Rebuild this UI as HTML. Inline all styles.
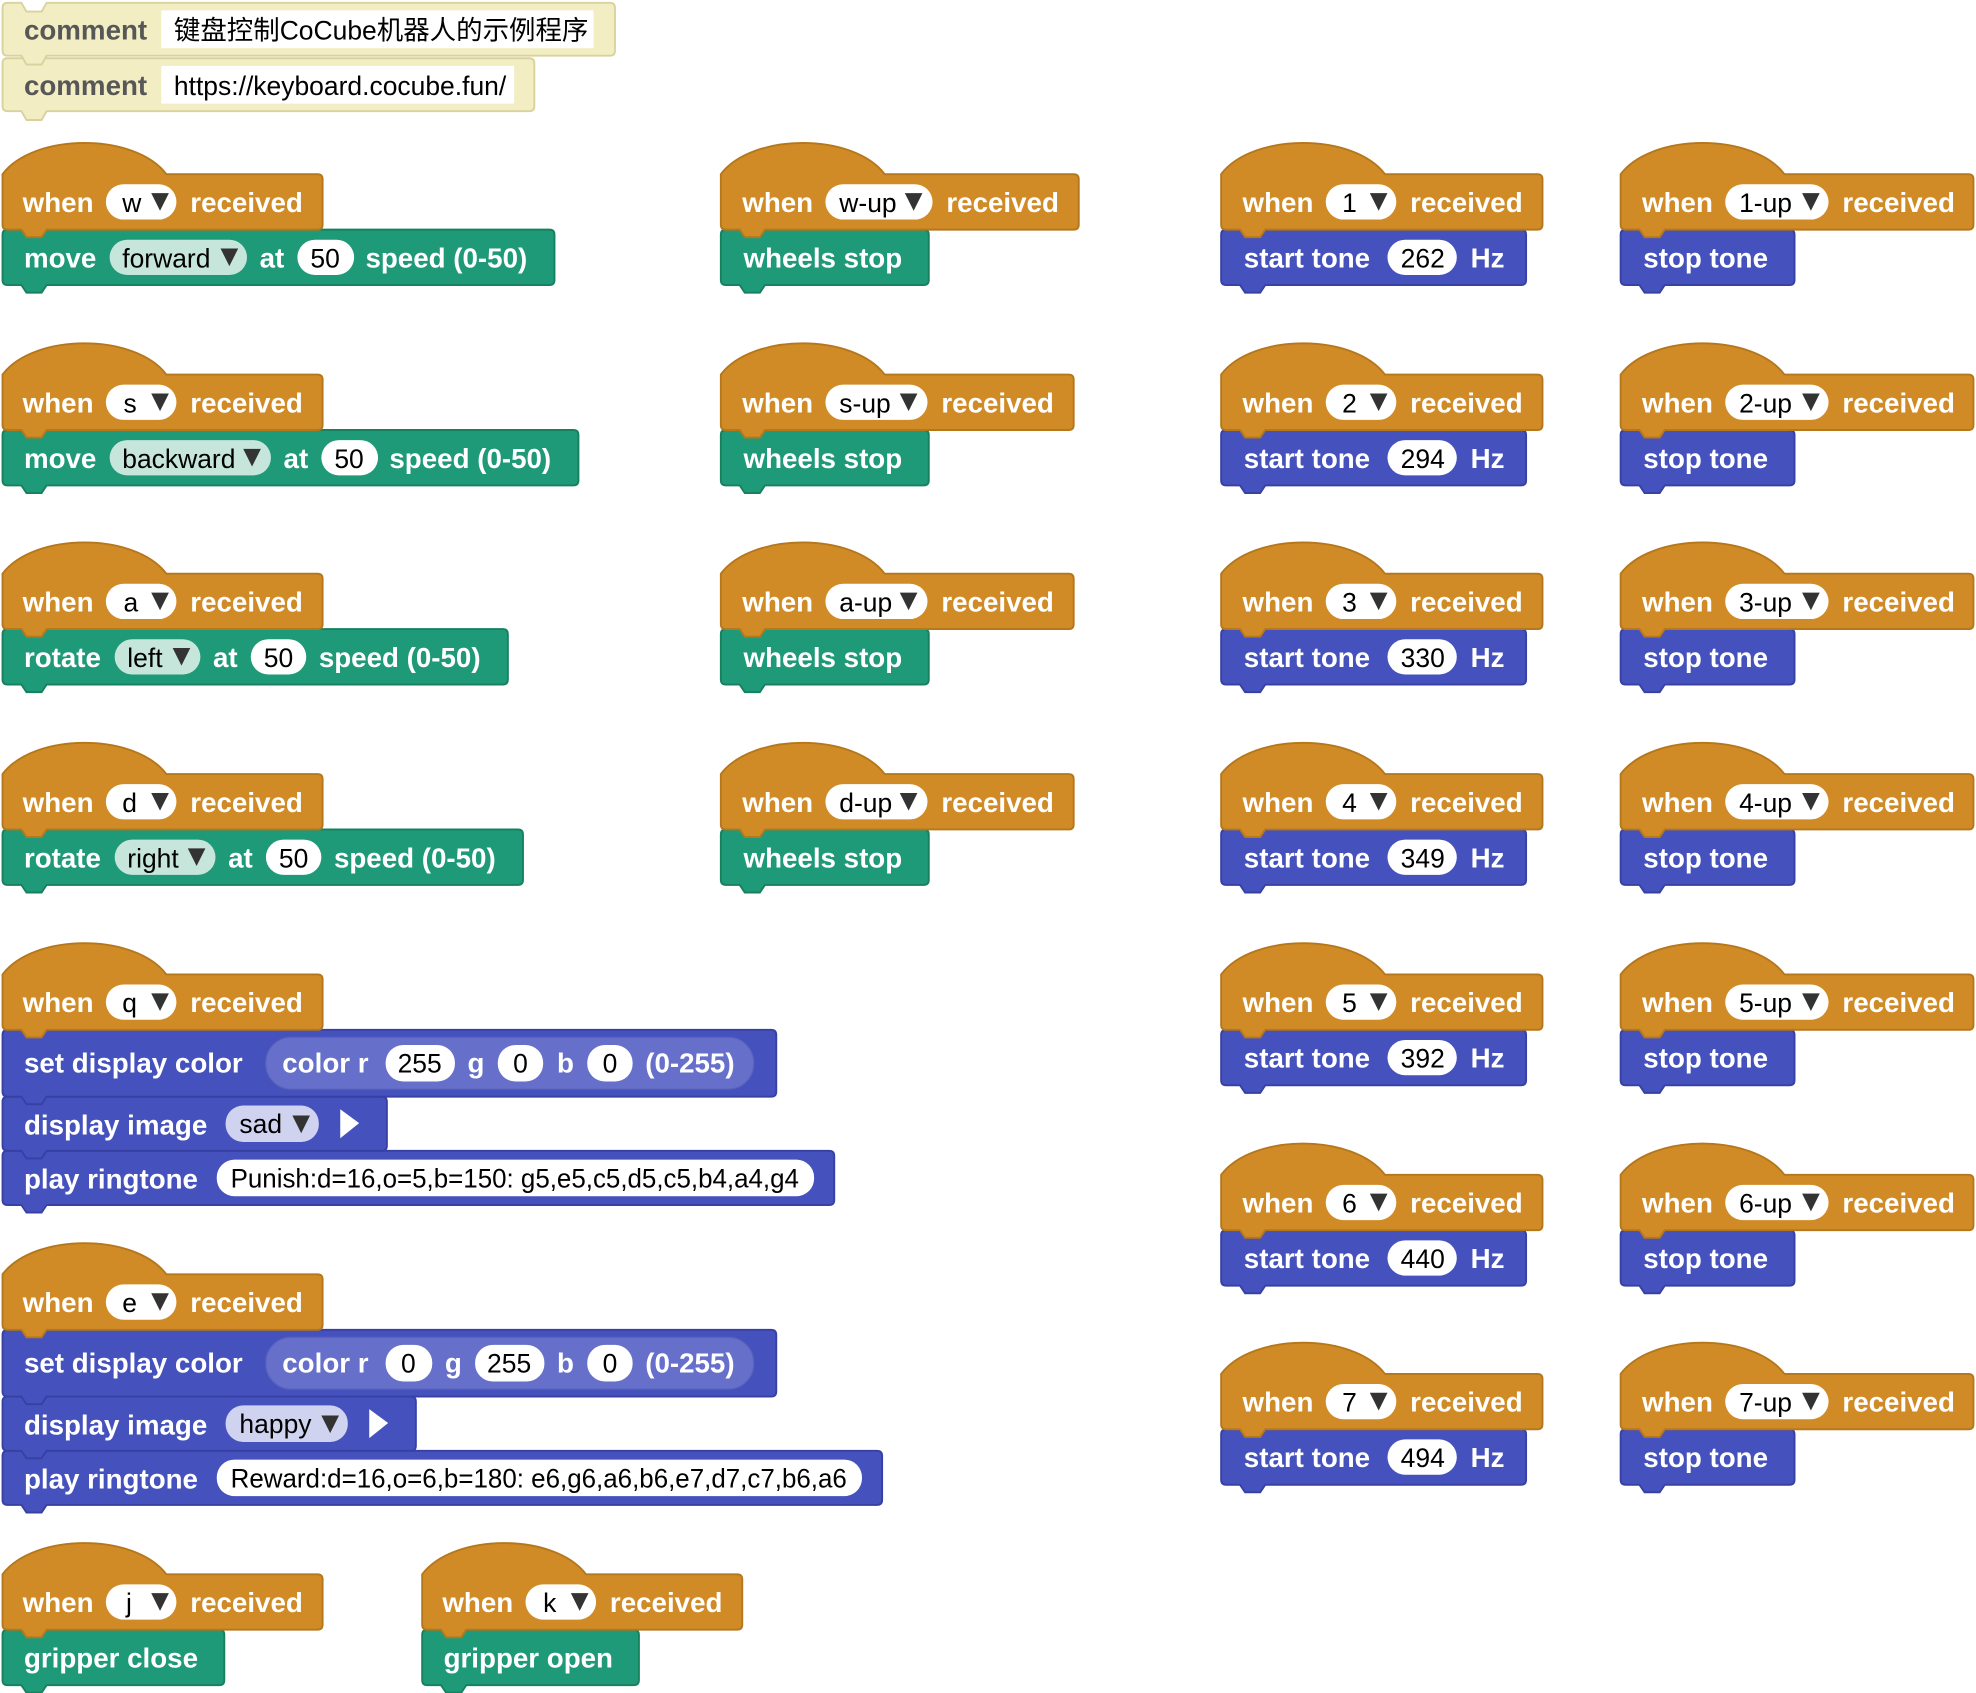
<!DOCTYPE html>
<html><head><meta charset="utf-8"><style>
html,body{margin:0;padding:0;background:#fff;width:1976px;height:1693px;overflow:hidden}
svg{display:block}
.t{font:bold 22px "Liberation Sans",sans-serif;fill:#fff}
.c{font:bold 22px "Liberation Sans",sans-serif;fill:#575757}
.d{font:21px "Liberation Sans","Noto Sans CJK SC",sans-serif;fill:#000}
.m{text-anchor:middle}
.o{fill:#D18B26;stroke:#B5771C;stroke-width:1.5}
.g{fill:#1F9A78;stroke:#16805F;stroke-width:1.5}
.b{fill:#4551BD;stroke:#3641A3;stroke-width:1.5}
.y{fill:#F2EDC2;stroke:#D9D29E;stroke-width:1.5}
.w{fill:#fff}
.l{fill:#C6E6DC}
.p{fill:#D0D3F0}
.k{fill:#333}
</style></head><body>
<svg width="1976" height="1693" viewBox="0 0 1568 1343" xmlns="http://www.w3.org/2000/svg">
<!-- comments -->
<g transform="translate(2,46)"><path class="y" d="M4,0 L15,0 L19,-7 L31,-7 L35,0 L418,0 Q422,0 422,4 L422,38 Q422,42 418,42 L35,42 L31,49 L19,49 L15,42 L4,42 Q0,42 0,38 L0,4 Q0,0 4,0 Z"/><text class="c" x="17" y="29">comment</text><rect class="w" x="126" y="6" width="280" height="30"/><text class="d" x="136" y="29">https://keyboard.cocube.fun/</text></g>
<g transform="translate(2,2)"><path class="y" d="M4,0 L15,0 L19,7 L31,7 L35,0 L482,0 Q486,0 486,4 L486,38 Q486,42 482,42 L35,42 L31,49 L19,49 L15,42 L4,42 Q0,42 0,38 L0,4 Q0,0 4,0 Z"/><text class="c" x="17" y="29">comment</text><rect class="w" x="126" y="6" width="343" height="30"/><text class="d" x="136" y="29">键盘控制CoCube机器人的示例程序</text></g>

<!-- column 1 stacks -->
<g transform="translate(2,182)"><path class="g" d="M0,4 Q0,0 4,0 L434,0 Q438,0 438,4 L438,40 Q438,44 434,44 L35,44 L31,50 L19,50 L15,44 L4,44 Q0,44 0,40 Z"/><text class="t" x="17" y="30">move</text><rect class="l" x="85" y="8" width="109" height="28" rx="14"/><text class="d" x="95" y="30">forward</text><polygon class="k" points="173,15 187,15 180,29"/><text class="t" x="204" y="30">at</text><rect class="w" x="234" y="8" width="45" height="28" rx="14"/><text class="d m" x="256" y="30">50</text><text class="t" x="288" y="30">speed (0-50)</text></g>
<g transform="translate(2,138)"><path class="o" d="M0,0 C25,-33 105,-33 130,0 L250,0 Q254,0 254,4 L254,40 Q254,44 250,44 L35,44 L31,50 L19,50 L15,44 L4,44 Q0,44 0,40 Z"/><text class="t" x="16" y="30">when</text><rect class="w" x="82" y="8" width="56" height="28" rx="14"/><text class="d" x="95" y="30">w</text><polygon class="k" points="118,15 132,15 125,29"/><text class="t" x="149" y="30">received</text></g>

<g transform="translate(2,341)"><path class="g" d="M0,4 Q0,0 4,0 L453,0 Q457,0 457,4 L457,40 Q457,44 453,44 L35,44 L31,50 L19,50 L15,44 L4,44 Q0,44 0,40 Z"/><text class="t" x="17" y="30">move</text><rect class="l" x="85" y="8" width="128" height="28" rx="14"/><text class="d" x="95" y="30">backward</text><polygon class="k" points="191,15 205,15 198,29"/><text class="t" x="223" y="30">at</text><rect class="w" x="253" y="8" width="45" height="28" rx="14"/><text class="d m" x="275" y="30">50</text><text class="t" x="307" y="30">speed (0-50)</text></g>
<g transform="translate(2,297)"><path class="o" d="M0,0 C25,-33 105,-33 130,0 L250,0 Q254,0 254,4 L254,40 Q254,44 250,44 L35,44 L31,50 L19,50 L15,44 L4,44 Q0,44 0,40 Z"/><text class="t" x="16" y="30">when</text><rect class="w" x="82" y="8" width="56" height="28" rx="14"/><text class="d" x="96" y="30">s</text><polygon class="k" points="118,15 132,15 125,29"/><text class="t" x="149" y="30">received</text></g>

<g transform="translate(2,499)"><path class="g" d="M0,4 Q0,0 4,0 L397,0 Q401,0 401,4 L401,40 Q401,44 397,44 L35,44 L31,50 L19,50 L15,44 L4,44 Q0,44 0,40 Z"/><text class="t" x="17" y="30">rotate</text><rect class="l" x="89" y="8" width="68" height="28" rx="14"/><text class="d" x="99" y="30">left</text><polygon class="k" points="135,15 149,15 142,29"/><text class="t" x="167" y="30">at</text><rect class="w" x="197" y="8" width="44" height="28" rx="14"/><text class="d m" x="219" y="30">50</text><text class="t" x="251" y="30">speed (0-50)</text></g>
<g transform="translate(2,455)"><path class="o" d="M0,0 C25,-33 105,-33 130,0 L250,0 Q254,0 254,4 L254,40 Q254,44 250,44 L35,44 L31,50 L19,50 L15,44 L4,44 Q0,44 0,40 Z"/><text class="t" x="16" y="30">when</text><rect class="w" x="82" y="8" width="56" height="28" rx="14"/><text class="d" x="96" y="30">a</text><polygon class="k" points="118,15 132,15 125,29"/><text class="t" x="149" y="30">received</text></g>

<g transform="translate(2,658)"><path class="g" d="M0,4 Q0,0 4,0 L409,0 Q413,0 413,4 L413,40 Q413,44 409,44 L35,44 L31,50 L19,50 L15,44 L4,44 Q0,44 0,40 Z"/><text class="t" x="17" y="30">rotate</text><rect class="l" x="89" y="8" width="80" height="28" rx="14"/><text class="d" x="99" y="30">right</text><polygon class="k" points="147,15 161,15 154,29"/><text class="t" x="179" y="30">at</text><rect class="w" x="209" y="8" width="44" height="28" rx="14"/><text class="d m" x="231" y="30">50</text><text class="t" x="263" y="30">speed (0-50)</text></g>
<g transform="translate(2,614)"><path class="o" d="M0,0 C25,-33 105,-33 130,0 L250,0 Q254,0 254,4 L254,40 Q254,44 250,44 L35,44 L31,50 L19,50 L15,44 L4,44 Q0,44 0,40 Z"/><text class="t" x="16" y="30">when</text><rect class="w" x="82" y="8" width="56" height="28" rx="14"/><text class="d" x="95" y="30">d</text><polygon class="k" points="118,15 132,15 125,29"/><text class="t" x="149" y="30">received</text></g>

<!-- q -->
<g transform="translate(2,913)"><path class="b" d="M0,4 Q0,0 4,0 L656,0 Q660,0 660,4 L660,39 Q660,43 656,43 L35,43 L31,49 L19,49 L15,43 L4,43 Q0,43 0,39 Z"/><text class="t" x="17" y="30">play ringtone</text><rect class="w" x="170" y="7" width="474" height="29" rx="14"/><text class="d" x="181" y="29" textLength="451" lengthAdjust="spacingAndGlyphs">Punish:d=16,o=5,b=150: g5,e5,c5,d5,c5,b4,a4,g4</text></g>
<g transform="translate(2,870)"><path class="b" d="M0,4 Q0,0 4,0 L301,0 Q305,0 305,4 L305,39 Q305,43 301,43 L35,43 L31,49 L19,49 L15,43 L4,43 Q0,43 0,39 Z"/><text class="t" x="17" y="30">display image</text><rect class="p" x="177" y="7" width="74" height="29" rx="14"/><text class="d" x="188" y="29">sad</text><polygon class="k" points="230,15 244,15 237,29"/><polygon class="w" points="268,10 283,21 268,33"/></g>
<g transform="translate(2,817)"><path class="b" d="M0,4 Q0,0 4,0 L610,0 Q614,0 614,4 L614,49 Q614,53 610,53 L35,53 L31,59 L19,59 L15,53 L4,53 Q0,53 0,49 Z"/><text class="t" x="17" y="34">set display color</text><rect x="209" y="6" width="387" height="41" rx="20" fill="#6670CA" stroke="#5A64BD"/><text class="t" x="222" y="34">color r</text><rect class="w" x="304" y="12" width="55" height="29" rx="14"/><text class="d m" x="331" y="34">255</text><text class="t" x="369" y="34">g</text><rect class="w" x="393" y="12" width="36" height="29" rx="14"/><text class="d m" x="411" y="34">0</text><text class="t" x="440" y="34">b</text><rect class="w" x="464" y="12" width="36" height="29" rx="14"/><text class="d m" x="482" y="34">0</text><text class="t" x="510" y="34">(0-255)</text></g>
<g transform="translate(2,773)"><path class="o" d="M0,0 C25,-33 105,-33 130,0 L250,0 Q254,0 254,4 L254,40 Q254,44 250,44 L35,44 L31,50 L19,50 L15,44 L4,44 Q0,44 0,40 Z"/><text class="t" x="16" y="30">when</text><rect class="w" x="82" y="8" width="56" height="28" rx="14"/><text class="d" x="95" y="30">q</text><polygon class="k" points="118,15 132,15 125,29"/><text class="t" x="149" y="30">received</text></g>

<!-- e -->
<g transform="translate(2,1151)"><path class="b" d="M0,4 Q0,0 4,0 L694,0 Q698,0 698,4 L698,39 Q698,43 694,43 L35,43 L31,49 L19,49 L15,43 L4,43 Q0,43 0,39 Z"/><text class="t" x="17" y="30">play ringtone</text><rect class="w" x="170" y="7" width="512" height="29" rx="14"/><text class="d" x="181" y="29" textLength="489" lengthAdjust="spacingAndGlyphs">Reward:d=16,o=6,b=180: e6,g6,a6,b6,e7,d7,c7,b6,a6</text></g>
<g transform="translate(2,1108)"><path class="b" d="M0,4 Q0,0 4,0 L324,0 Q328,0 328,4 L328,39 Q328,43 324,43 L35,43 L31,49 L19,49 L15,43 L4,43 Q0,43 0,39 Z"/><text class="t" x="17" y="30">display image</text><rect class="p" x="177" y="7" width="97" height="29" rx="14"/><text class="d" x="188" y="29">happy</text><polygon class="k" points="253,15 267,15 260,29"/><polygon class="w" points="291,10 306,21 291,33"/></g>
<g transform="translate(2,1055)"><path class="b" d="M0,4 Q0,0 4,0 L610,0 Q614,0 614,4 L614,49 Q614,53 610,53 L35,53 L31,59 L19,59 L15,53 L4,53 Q0,53 0,49 Z"/><text class="t" x="17" y="34">set display color</text><rect x="209" y="6" width="387" height="41" rx="20" fill="#6670CA" stroke="#5A64BD"/><text class="t" x="222" y="34">color r</text><rect class="w" x="304" y="12" width="37" height="29" rx="14"/><text class="d m" x="322" y="34">0</text><text class="t" x="351" y="34">g</text><rect class="w" x="375" y="12" width="55" height="29" rx="14"/><text class="d m" x="402" y="34">255</text><text class="t" x="440" y="34">b</text><rect class="w" x="464" y="12" width="36" height="29" rx="14"/><text class="d m" x="482" y="34">0</text><text class="t" x="510" y="34">(0-255)</text></g>
<g transform="translate(2,1011)"><path class="o" d="M0,0 C25,-33 105,-33 130,0 L250,0 Q254,0 254,4 L254,40 Q254,44 250,44 L35,44 L31,50 L19,50 L15,44 L4,44 Q0,44 0,40 Z"/><text class="t" x="16" y="30">when</text><rect class="w" x="82" y="8" width="56" height="28" rx="14"/><text class="d" x="95" y="30">e</text><polygon class="k" points="118,15 132,15 125,29"/><text class="t" x="149" y="30">received</text></g>

<!-- j / k -->
<g transform="translate(2,1293)"><path class="g" d="M0,4 Q0,0 4,0 L172,0 Q176,0 176,4 L176,40 Q176,44 172,44 L35,44 L31,50 L19,50 L15,44 L4,44 Q0,44 0,40 Z"/><text class="t" x="17" y="30">gripper close</text></g>
<g transform="translate(2,1249)"><path class="o" d="M0,0 C25,-33 105,-33 130,0 L250,0 Q254,0 254,4 L254,40 Q254,44 250,44 L35,44 L31,50 L19,50 L15,44 L4,44 Q0,44 0,40 Z"/><text class="t" x="16" y="30">when</text><rect class="w" x="82" y="8" width="56" height="28" rx="14"/><text class="d" x="98" y="30">j</text><polygon class="k" points="118,15 132,15 125,29"/><text class="t" x="149" y="30">received</text></g>
<g transform="translate(335,1293)"><path class="g" d="M0,4 Q0,0 4,0 L168,0 Q172,0 172,4 L172,40 Q172,44 168,44 L35,44 L31,50 L19,50 L15,44 L4,44 Q0,44 0,40 Z"/><text class="t" x="17" y="30">gripper open</text></g>
<g transform="translate(335,1249)"><path class="o" d="M0,0 C25,-33 105,-33 130,0 L250,0 Q254,0 254,4 L254,40 Q254,44 250,44 L35,44 L31,50 L19,50 L15,44 L4,44 Q0,44 0,40 Z"/><text class="t" x="16" y="30">when</text><rect class="w" x="82" y="8" width="56" height="28" rx="14"/><text class="d" x="96" y="30">k</text><polygon class="k" points="118,15 132,15 125,29"/><text class="t" x="149" y="30">received</text></g>

<!-- column 2 -->
<g transform="translate(572,182)"><path class="g" d="M0,4 Q0,0 4,0 L161,0 Q165,0 165,4 L165,40 Q165,44 161,44 L35,44 L31,50 L19,50 L15,44 L4,44 Q0,44 0,40 Z"/><text class="t" x="18" y="30">wheels stop</text></g>
<g transform="translate(572,138)"><path class="o" d="M0,0 C25,-33 105,-33 130,0 L280,0 Q284,0 284,4 L284,40 Q284,44 280,44 L35,44 L31,50 L19,50 L15,44 L4,44 Q0,44 0,40 Z"/><text class="t" x="17" y="30">when</text><rect class="w" x="83" y="8" width="85" height="28" rx="14"/><text class="d" x="94" y="30">w-up</text><polygon class="k" points="146,15 160,15 153,29"/><text class="t" x="179" y="30">received</text></g>
<g transform="translate(572,341)"><path class="g" d="M0,4 Q0,0 4,0 L161,0 Q165,0 165,4 L165,40 Q165,44 161,44 L35,44 L31,50 L19,50 L15,44 L4,44 Q0,44 0,40 Z"/><text class="t" x="18" y="30">wheels stop</text></g>
<g transform="translate(572,297)"><path class="o" d="M0,0 C25,-33 105,-33 130,0 L276,0 Q280,0 280,4 L280,40 Q280,44 276,44 L35,44 L31,50 L19,50 L15,44 L4,44 Q0,44 0,40 Z"/><text class="t" x="17" y="30">when</text><rect class="w" x="83" y="8" width="81" height="28" rx="14"/><text class="d" x="94" y="30">s-up</text><polygon class="k" points="142,15 156,15 149,29"/><text class="t" x="175" y="30">received</text></g>
<g transform="translate(572,499)"><path class="g" d="M0,4 Q0,0 4,0 L161,0 Q165,0 165,4 L165,40 Q165,44 161,44 L35,44 L31,50 L19,50 L15,44 L4,44 Q0,44 0,40 Z"/><text class="t" x="18" y="30">wheels stop</text></g>
<g transform="translate(572,455)"><path class="o" d="M0,0 C25,-33 105,-33 130,0 L276,0 Q280,0 280,4 L280,40 Q280,44 276,44 L35,44 L31,50 L19,50 L15,44 L4,44 Q0,44 0,40 Z"/><text class="t" x="17" y="30">when</text><rect class="w" x="83" y="8" width="81" height="28" rx="14"/><text class="d" x="94" y="30">a-up</text><polygon class="k" points="142,15 156,15 149,29"/><text class="t" x="175" y="30">received</text></g>
<g transform="translate(572,658)"><path class="g" d="M0,4 Q0,0 4,0 L161,0 Q165,0 165,4 L165,40 Q165,44 161,44 L35,44 L31,50 L19,50 L15,44 L4,44 Q0,44 0,40 Z"/><text class="t" x="18" y="30">wheels stop</text></g>
<g transform="translate(572,614)"><path class="o" d="M0,0 C25,-33 105,-33 130,0 L276,0 Q280,0 280,4 L280,40 Q280,44 276,44 L35,44 L31,50 L19,50 L15,44 L4,44 Q0,44 0,40 Z"/><text class="t" x="17" y="30">when</text><rect class="w" x="83" y="8" width="81" height="28" rx="14"/><text class="d" x="94" y="30">d-up</text><polygon class="k" points="142,15 156,15 149,29"/><text class="t" x="175" y="30">received</text></g>

<!-- column 3 -->
<g transform="translate(969,182)"><path class="b" d="M0,4 Q0,0 4,0 L238,0 Q242,0 242,4 L242,40 Q242,44 238,44 L35,44 L31,50 L19,50 L15,44 L4,44 Q0,44 0,40 Z"/><text class="t" x="18" y="30">start tone</text><rect class="w" x="132" y="8" width="55" height="28" rx="14"/><text class="d m" x="160" y="30">262</text><text class="t" x="198" y="30">Hz</text></g>
<g transform="translate(969,138)"><path class="o" d="M0,0 C25,-33 105,-33 130,0 L251,0 Q255,0 255,4 L255,40 Q255,44 251,44 L35,44 L31,50 L19,50 L15,44 L4,44 Q0,44 0,40 Z"/><text class="t" x="17" y="30">when</text><rect class="w" x="83" y="8" width="56" height="28" rx="14"/><text class="d" x="96" y="30">1</text><polygon class="k" points="118,15 132,15 125,29"/><text class="t" x="150" y="30">received</text></g>
<g transform="translate(969,341)"><path class="b" d="M0,4 Q0,0 4,0 L238,0 Q242,0 242,4 L242,40 Q242,44 238,44 L35,44 L31,50 L19,50 L15,44 L4,44 Q0,44 0,40 Z"/><text class="t" x="18" y="30">start tone</text><rect class="w" x="132" y="8" width="55" height="28" rx="14"/><text class="d m" x="160" y="30">294</text><text class="t" x="198" y="30">Hz</text></g>
<g transform="translate(969,297)"><path class="o" d="M0,0 C25,-33 105,-33 130,0 L251,0 Q255,0 255,4 L255,40 Q255,44 251,44 L35,44 L31,50 L19,50 L15,44 L4,44 Q0,44 0,40 Z"/><text class="t" x="17" y="30">when</text><rect class="w" x="83" y="8" width="56" height="28" rx="14"/><text class="d" x="96" y="30">2</text><polygon class="k" points="118,15 132,15 125,29"/><text class="t" x="150" y="30">received</text></g>
<g transform="translate(969,499)"><path class="b" d="M0,4 Q0,0 4,0 L238,0 Q242,0 242,4 L242,40 Q242,44 238,44 L35,44 L31,50 L19,50 L15,44 L4,44 Q0,44 0,40 Z"/><text class="t" x="18" y="30">start tone</text><rect class="w" x="132" y="8" width="55" height="28" rx="14"/><text class="d m" x="160" y="30">330</text><text class="t" x="198" y="30">Hz</text></g>
<g transform="translate(969,455)"><path class="o" d="M0,0 C25,-33 105,-33 130,0 L251,0 Q255,0 255,4 L255,40 Q255,44 251,44 L35,44 L31,50 L19,50 L15,44 L4,44 Q0,44 0,40 Z"/><text class="t" x="17" y="30">when</text><rect class="w" x="83" y="8" width="56" height="28" rx="14"/><text class="d" x="96" y="30">3</text><polygon class="k" points="118,15 132,15 125,29"/><text class="t" x="150" y="30">received</text></g>
<g transform="translate(969,658)"><path class="b" d="M0,4 Q0,0 4,0 L238,0 Q242,0 242,4 L242,40 Q242,44 238,44 L35,44 L31,50 L19,50 L15,44 L4,44 Q0,44 0,40 Z"/><text class="t" x="18" y="30">start tone</text><rect class="w" x="132" y="8" width="55" height="28" rx="14"/><text class="d m" x="160" y="30">349</text><text class="t" x="198" y="30">Hz</text></g>
<g transform="translate(969,614)"><path class="o" d="M0,0 C25,-33 105,-33 130,0 L251,0 Q255,0 255,4 L255,40 Q255,44 251,44 L35,44 L31,50 L19,50 L15,44 L4,44 Q0,44 0,40 Z"/><text class="t" x="17" y="30">when</text><rect class="w" x="83" y="8" width="56" height="28" rx="14"/><text class="d" x="96" y="30">4</text><polygon class="k" points="118,15 132,15 125,29"/><text class="t" x="150" y="30">received</text></g>
<g transform="translate(969,817)"><path class="b" d="M0,4 Q0,0 4,0 L238,0 Q242,0 242,4 L242,40 Q242,44 238,44 L35,44 L31,50 L19,50 L15,44 L4,44 Q0,44 0,40 Z"/><text class="t" x="18" y="30">start tone</text><rect class="w" x="132" y="8" width="55" height="28" rx="14"/><text class="d m" x="160" y="30">392</text><text class="t" x="198" y="30">Hz</text></g>
<g transform="translate(969,773)"><path class="o" d="M0,0 C25,-33 105,-33 130,0 L251,0 Q255,0 255,4 L255,40 Q255,44 251,44 L35,44 L31,50 L19,50 L15,44 L4,44 Q0,44 0,40 Z"/><text class="t" x="17" y="30">when</text><rect class="w" x="83" y="8" width="56" height="28" rx="14"/><text class="d" x="96" y="30">5</text><polygon class="k" points="118,15 132,15 125,29"/><text class="t" x="150" y="30">received</text></g>
<g transform="translate(969,976)"><path class="b" d="M0,4 Q0,0 4,0 L238,0 Q242,0 242,4 L242,40 Q242,44 238,44 L35,44 L31,50 L19,50 L15,44 L4,44 Q0,44 0,40 Z"/><text class="t" x="18" y="30">start tone</text><rect class="w" x="132" y="8" width="55" height="28" rx="14"/><text class="d m" x="160" y="30">440</text><text class="t" x="198" y="30">Hz</text></g>
<g transform="translate(969,932)"><path class="o" d="M0,0 C25,-33 105,-33 130,0 L251,0 Q255,0 255,4 L255,40 Q255,44 251,44 L35,44 L31,50 L19,50 L15,44 L4,44 Q0,44 0,40 Z"/><text class="t" x="17" y="30">when</text><rect class="w" x="83" y="8" width="56" height="28" rx="14"/><text class="d" x="96" y="30">6</text><polygon class="k" points="118,15 132,15 125,29"/><text class="t" x="150" y="30">received</text></g>
<g transform="translate(969,1134)"><path class="b" d="M0,4 Q0,0 4,0 L238,0 Q242,0 242,4 L242,40 Q242,44 238,44 L35,44 L31,50 L19,50 L15,44 L4,44 Q0,44 0,40 Z"/><text class="t" x="18" y="30">start tone</text><rect class="w" x="132" y="8" width="55" height="28" rx="14"/><text class="d m" x="160" y="30">494</text><text class="t" x="198" y="30">Hz</text></g>
<g transform="translate(969,1090)"><path class="o" d="M0,0 C25,-33 105,-33 130,0 L251,0 Q255,0 255,4 L255,40 Q255,44 251,44 L35,44 L31,50 L19,50 L15,44 L4,44 Q0,44 0,40 Z"/><text class="t" x="17" y="30">when</text><rect class="w" x="83" y="8" width="56" height="28" rx="14"/><text class="d" x="96" y="30">7</text><polygon class="k" points="118,15 132,15 125,29"/><text class="t" x="150" y="30">received</text></g>

<!-- column 4 -->
<g transform="translate(1286,182)"><path class="b" d="M0,4 Q0,0 4,0 L134,0 Q138,0 138,4 L138,40 Q138,44 134,44 L35,44 L31,50 L19,50 L15,44 L4,44 Q0,44 0,40 Z"/><text class="t" x="18" y="30">stop tone</text></g>
<g transform="translate(1286,138)"><path class="o" d="M0,0 C25,-33 105,-33 130,0 L276,0 Q280,0 280,4 L280,40 Q280,44 276,44 L35,44 L31,50 L19,50 L15,44 L4,44 Q0,44 0,40 Z"/><text class="t" x="17" y="30">when</text><rect class="w" x="83" y="8" width="82" height="28" rx="14"/><text class="d" x="94" y="30">1-up</text><polygon class="k" points="144,15 158,15 151,29"/><text class="t" x="176" y="30">received</text></g>
<g transform="translate(1286,341)"><path class="b" d="M0,4 Q0,0 4,0 L134,0 Q138,0 138,4 L138,40 Q138,44 134,44 L35,44 L31,50 L19,50 L15,44 L4,44 Q0,44 0,40 Z"/><text class="t" x="18" y="30">stop tone</text></g>
<g transform="translate(1286,297)"><path class="o" d="M0,0 C25,-33 105,-33 130,0 L276,0 Q280,0 280,4 L280,40 Q280,44 276,44 L35,44 L31,50 L19,50 L15,44 L4,44 Q0,44 0,40 Z"/><text class="t" x="17" y="30">when</text><rect class="w" x="83" y="8" width="82" height="28" rx="14"/><text class="d" x="94" y="30">2-up</text><polygon class="k" points="144,15 158,15 151,29"/><text class="t" x="176" y="30">received</text></g>
<g transform="translate(1286,499)"><path class="b" d="M0,4 Q0,0 4,0 L134,0 Q138,0 138,4 L138,40 Q138,44 134,44 L35,44 L31,50 L19,50 L15,44 L4,44 Q0,44 0,40 Z"/><text class="t" x="18" y="30">stop tone</text></g>
<g transform="translate(1286,455)"><path class="o" d="M0,0 C25,-33 105,-33 130,0 L276,0 Q280,0 280,4 L280,40 Q280,44 276,44 L35,44 L31,50 L19,50 L15,44 L4,44 Q0,44 0,40 Z"/><text class="t" x="17" y="30">when</text><rect class="w" x="83" y="8" width="82" height="28" rx="14"/><text class="d" x="94" y="30">3-up</text><polygon class="k" points="144,15 158,15 151,29"/><text class="t" x="176" y="30">received</text></g>
<g transform="translate(1286,658)"><path class="b" d="M0,4 Q0,0 4,0 L134,0 Q138,0 138,4 L138,40 Q138,44 134,44 L35,44 L31,50 L19,50 L15,44 L4,44 Q0,44 0,40 Z"/><text class="t" x="18" y="30">stop tone</text></g>
<g transform="translate(1286,614)"><path class="o" d="M0,0 C25,-33 105,-33 130,0 L276,0 Q280,0 280,4 L280,40 Q280,44 276,44 L35,44 L31,50 L19,50 L15,44 L4,44 Q0,44 0,40 Z"/><text class="t" x="17" y="30">when</text><rect class="w" x="83" y="8" width="82" height="28" rx="14"/><text class="d" x="94" y="30">4-up</text><polygon class="k" points="144,15 158,15 151,29"/><text class="t" x="176" y="30">received</text></g>
<g transform="translate(1286,817)"><path class="b" d="M0,4 Q0,0 4,0 L134,0 Q138,0 138,4 L138,40 Q138,44 134,44 L35,44 L31,50 L19,50 L15,44 L4,44 Q0,44 0,40 Z"/><text class="t" x="18" y="30">stop tone</text></g>
<g transform="translate(1286,773)"><path class="o" d="M0,0 C25,-33 105,-33 130,0 L276,0 Q280,0 280,4 L280,40 Q280,44 276,44 L35,44 L31,50 L19,50 L15,44 L4,44 Q0,44 0,40 Z"/><text class="t" x="17" y="30">when</text><rect class="w" x="83" y="8" width="82" height="28" rx="14"/><text class="d" x="94" y="30">5-up</text><polygon class="k" points="144,15 158,15 151,29"/><text class="t" x="176" y="30">received</text></g>
<g transform="translate(1286,976)"><path class="b" d="M0,4 Q0,0 4,0 L134,0 Q138,0 138,4 L138,40 Q138,44 134,44 L35,44 L31,50 L19,50 L15,44 L4,44 Q0,44 0,40 Z"/><text class="t" x="18" y="30">stop tone</text></g>
<g transform="translate(1286,932)"><path class="o" d="M0,0 C25,-33 105,-33 130,0 L276,0 Q280,0 280,4 L280,40 Q280,44 276,44 L35,44 L31,50 L19,50 L15,44 L4,44 Q0,44 0,40 Z"/><text class="t" x="17" y="30">when</text><rect class="w" x="83" y="8" width="82" height="28" rx="14"/><text class="d" x="94" y="30">6-up</text><polygon class="k" points="144,15 158,15 151,29"/><text class="t" x="176" y="30">received</text></g>
<g transform="translate(1286,1134)"><path class="b" d="M0,4 Q0,0 4,0 L134,0 Q138,0 138,4 L138,40 Q138,44 134,44 L35,44 L31,50 L19,50 L15,44 L4,44 Q0,44 0,40 Z"/><text class="t" x="18" y="30">stop tone</text></g>
<g transform="translate(1286,1090)"><path class="o" d="M0,0 C25,-33 105,-33 130,0 L276,0 Q280,0 280,4 L280,40 Q280,44 276,44 L35,44 L31,50 L19,50 L15,44 L4,44 Q0,44 0,40 Z"/><text class="t" x="17" y="30">when</text><rect class="w" x="83" y="8" width="82" height="28" rx="14"/><text class="d" x="94" y="30">7-up</text><polygon class="k" points="144,15 158,15 151,29"/><text class="t" x="176" y="30">received</text></g>
</svg>
</body></html>
